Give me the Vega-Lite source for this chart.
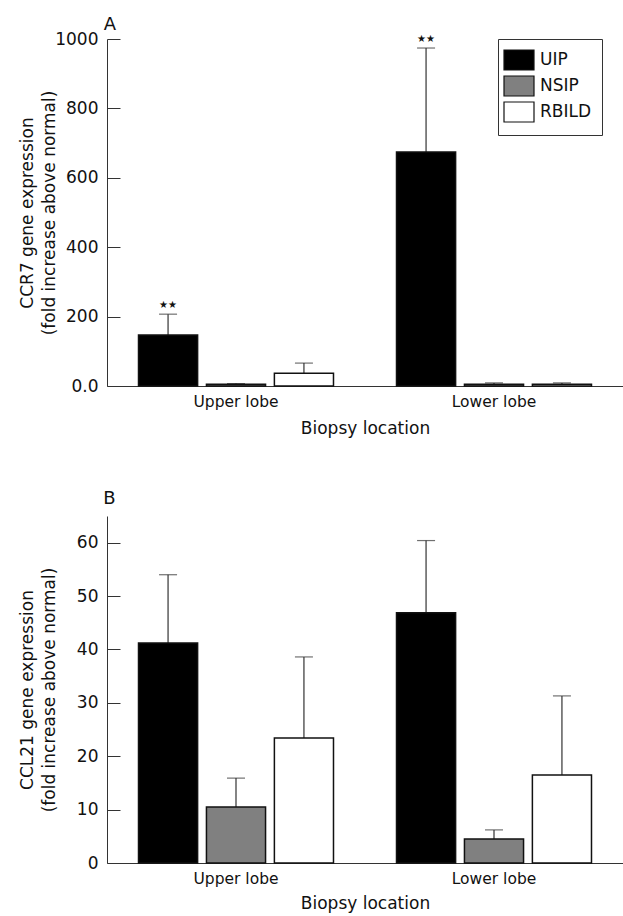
{
  "$schema": "https://vega.github.io/schema/vega-lite/v6.json",
  "background": "white",
  "padding": {"left": 18, "top": 16, "right": 0, "bottom": 5},
  "config": {
    "font": "DejaVu Sans",
    "view": {"stroke": null},
    "axis": {"domainColor": "#333333", "tickColor": "#333333", "labelColor": "#111111", "titleColor": "#111111", "grid": false, "titleFontWeight": "normal"}
  },
  "datasets": {
    "ccr7": [
      {"location": "Upper lobe", "group": "UIP", "value": 147, "err": 207, "sig": "★★"},
      {"location": "Upper lobe", "group": "NSIP", "value": 5, "err": 7, "sig": ""},
      {"location": "Upper lobe", "group": "RBILD", "value": 37, "err": 66, "sig": ""},
      {"location": "Lower lobe", "group": "UIP", "value": 674, "err": 974, "sig": "★★"},
      {"location": "Lower lobe", "group": "NSIP", "value": 5, "err": 9, "sig": ""},
      {"location": "Lower lobe", "group": "RBILD", "value": 5, "err": 9, "sig": ""}
    ],
    "ccl21": [
      {"location": "Upper lobe", "group": "UIP", "value": 41.2, "err": 54.0},
      {"location": "Upper lobe", "group": "NSIP", "value": 10.5, "err": 15.9},
      {"location": "Upper lobe", "group": "RBILD", "value": 23.4, "err": 38.6},
      {"location": "Lower lobe", "group": "UIP", "value": 46.9, "err": 60.4},
      {"location": "Lower lobe", "group": "NSIP", "value": 4.5, "err": 6.2},
      {"location": "Lower lobe", "group": "RBILD", "value": 16.5, "err": 31.3}
    ]
  },
  "spacing": 53,
  "resolve": {"scale": {"y": "independent", "fill": "independent"}, "legend": {"fill": "independent"}},
  "vconcat": [
    {
      "width": 516,
      "height": 347,
      "title": {"text": "A", "anchor": "start", "dx": 85, "fontSize": 18, "fontWeight": "normal", "offset": -4, "color": "#111111"},
      "data": {"name": "ccr7"},
      "encoding": {
        "x": {"field": "location", "type": "nominal", "sort": ["Upper lobe", "Lower lobe"], "title": "Biopsy location",
          "scale": {"paddingInner": 0.21, "paddingOuter": 0.105},
          "axis": {"ticks": false, "labelAngle": 0, "labelFontSize": 15.5, "titleFontSize": 17, "labelPadding": 8, "titlePadding": 11}},
        "xOffset": {"field": "group", "type": "nominal", "sort": ["UIP", "NSIP", "RBILD"], "scale": {"paddingInner": 0.13, "paddingOuter": 0.065}}
      },
      "layer": [
        {
          "mark": {"type": "rule", "color": "#333333", "strokeWidth": 1.2},
          "encoding": {
            "y": {"field": "value", "type": "quantitative", "title": ["CCR7 gene expression", "(fold increase above normal)"],
              "scale": {"domain": [0, 1000], "nice": false},
              "axis": {"values": [0, 100, 200, 300, 400, 500, 600, 700, 800, 900, 1000], "format": "d",
                "labelExpr": "datum.value % 200 === 0 ? (datum.value === 0 ? '0.0' : datum.label) : ''",
                "tickSize": {"condition": {"test": "datum.value % 200 === 0", "value": -13}, "value": -7},
                "labelPadding": 22, "labelFontSize": 17, "titleFontSize": 17, "titleLineHeight": 22, "titlePadding": -4}},
            "y2": {"field": "err"}
          }
        },
        {
          "mark": {"type": "tick", "orient": "horizontal", "size": 18, "thickness": 1.2, "color": "#333333"},
          "encoding": {"y": {"field": "err", "type": "quantitative"}}
        },
        {
          "mark": {"type": "bar", "stroke": "#111111", "strokeWidth": 1.5},
          "encoding": {
            "y": {"field": "value", "type": "quantitative"},
            "fill": {"field": "group", "type": "nominal",
              "scale": {"domain": ["UIP", "NSIP", "RBILD"], "range": ["#000000", "#808080", "#ffffff"]},
              "legend": {"title": null, "orient": "none", "legendX": 391, "legendY": 0, "strokeColor": "#333333", "fillColor": "white",
                "padding": 10, "symbolType": "M-1.5,-1H1.5V1H-1.5Z", "symbolSize": 400, "symbolStrokeColor": "#111111",
                "symbolStrokeWidth": 1.2, "symbolOpacity": 1, "labelFontSize": 17, "labelOffset": 10, "rowPadding": 0, "labelColor": "#111111"}}
          }
        },
        {
          "mark": {"type": "text", "baseline": "bottom", "dy": -4, "fontSize": 10, "color": "#111111"},
          "encoding": {"y": {"field": "err", "type": "quantitative"}, "text": {"field": "sig"}}
        }
      ]
    },
    {
      "width": 516,
      "height": 347,
      "title": {"text": "B", "anchor": "start", "dx": 85, "fontSize": 18, "fontWeight": "normal", "offset": 8, "color": "#111111"},
      "data": {"name": "ccl21"},
      "encoding": {
        "x": {"field": "location", "type": "nominal", "sort": ["Upper lobe", "Lower lobe"], "title": "Biopsy location",
          "scale": {"paddingInner": 0.21, "paddingOuter": 0.105},
          "axis": {"ticks": false, "labelAngle": 0, "labelFontSize": 15.5, "titleFontSize": 17, "labelPadding": 8, "titlePadding": 9}},
        "xOffset": {"field": "group", "type": "nominal", "sort": ["UIP", "NSIP", "RBILD"], "scale": {"paddingInner": 0.13, "paddingOuter": 0.065}}
      },
      "layer": [
        {
          "mark": {"type": "rule", "color": "#333333", "strokeWidth": 1.2},
          "encoding": {
            "y": {"field": "value", "type": "quantitative", "title": ["CCL21 gene expression", "(fold increase above normal)"],
              "scale": {"domain": [0, 65], "nice": false},
              "axis": {"values": [0, 5, 10, 15, 20, 25, 30, 35, 40, 45, 50, 55, 60, 65], "format": "d",
                "labelExpr": "datum.value % 10 === 0 ? datum.label : ''",
                "tickSize": {"condition": {"test": "datum.value % 10 === 0", "value": -13}, "value": -7},
                "labelPadding": 22, "labelFontSize": 17, "titleFontSize": 17, "titleLineHeight": 22, "titlePadding": 18}},
            "y2": {"field": "err"}
          }
        },
        {
          "mark": {"type": "tick", "orient": "horizontal", "size": 18, "thickness": 1.2, "color": "#333333"},
          "encoding": {"y": {"field": "err", "type": "quantitative"}}
        },
        {
          "mark": {"type": "bar", "stroke": "#111111", "strokeWidth": 1.5},
          "encoding": {
            "y": {"field": "value", "type": "quantitative"},
            "fill": {"field": "group", "type": "nominal",
              "scale": {"domain": ["UIP", "NSIP", "RBILD"], "range": ["#000000", "#808080", "#ffffff"]},
              "legend": null}
          }
        }
      ]
    }
  ]
}
